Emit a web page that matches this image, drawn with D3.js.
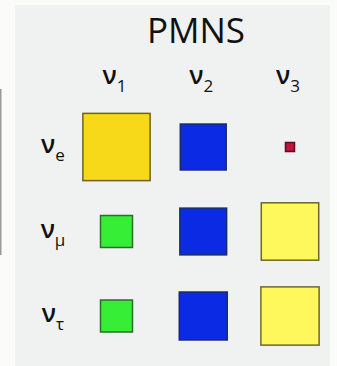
<!DOCTYPE html>
<meta charset="utf-8">
<script src="https://d3js.org/d3.v7.min.js"></script>
<style>
  body { margin: 0; background: #fbfcfa; }
  text { font-family: "Open Sans", "Noto Sans", sans-serif; fill: #111; }
</style>
<svg id="my_dataviz" width="337" height="366"></svg>
<script>

    // Mass states (columns) and flavour states (rows)
    var massStates = ["1", "2", "3"];
    var flavours = ["e", "μ", "τ"];

    var rowE = [0.82, 0.56, 0.11];
    var rowMu = [0.39, 0.57, 0.70];
    var rowTau = [0.39, 0.585, 0.71];

    var values = [rowE, rowMu, rowTau];

    // fill / stroke for each cell
    var fills = [
        ["#f8d91a", "#0a2ae4", "#c8123e"],
        ["#36ee36", "#0a2ae4", "#fff85c"],
        ["#36ee36", "#0a2ae4", "#fff85c"]
    ];
    var strokes = [
        ["#6e6222", "#1d2a6a", "#5a1020"],
        ["#2f6a2f", "#1d2a6a", "#6c6632"],
        ["#2f6a2f", "#1d2a6a", "#6c6632"]
    ];

    var svg = d3.select("svg");

    // panel
    svg.append("rect")
        .attr("x", 15).attr("y", 5)
        .attr("width", 315).attr("height", 366)
        .attr("fill", "#eff2f0");

    // left edge line of the slide behind
    svg.append("line")
        .attr("x1", 0.5).attr("x2", 0.5)
        .attr("y1", 89).attr("y2", 255)
        .attr("stroke", "#9a9a9a").attr("stroke-width", 2);

    svg.append("text")
        .attr("x", 196).attr("y", 43)
        .attr("text-anchor", "middle")
        .style("font-size", "35px")
        .text("PMNS");

    var x = d3.scalePoint().domain(massStates).range([116.5, 290]);
    var y = d3.scalePoint().domain(flavours).range([147, 316]);
    var side = d3.scaleLinear().domain([0, 1]).range([0, 82]);

    // column headers
    var col = svg.append("g").selectAll("text")
        .data(massStates)
        .enter()
        .append("text")
        .attr("x", function (d) { return x(d) - 2; })
        .attr("y", 84)
        .attr("text-anchor", "middle");
    col.append("tspan").style("font-size", "25px").style("font-weight", 600).text("ν");
    col.append("tspan").attr("dy", 8).style("font-size", "17px").text(function (d) { return d; });

    // row headers
    var row = svg.append("g").selectAll("text")
        .data(flavours)
        .enter()
        .append("text")
        .attr("x", 53)
        .attr("y", function (d) { return y(d) + 6; })
        .attr("text-anchor", "middle");
    row.append("tspan").style("font-size", "25px").style("font-weight", 600).text("ν");
    row.append("tspan").attr("dy", 8).style("font-size", "17px").text(function (d) { return d; });

    // cells
    var cells = [];
    values.forEach(function (r, i) {
        r.forEach(function (v, j) {
            cells.push({ row: flavours[i], col: massStates[j], v: v, i: i, j: j });
        });
    });

    svg.append("g")
        .selectAll("rect")
        .data(cells)
        .enter()
        .append("rect")
        .attr("x", function (d) { return x(d.col) - side(d.v) / 2; })
        .attr("y", function (d) { return y(d.row) - side(d.v) / 2; })
        .attr("width", function (d) { return side(d.v); })
        .attr("height", function (d) { return side(d.v); })
        .attr("fill", function (d) { return fills[d.i][d.j]; })
        .attr("stroke", function (d) { return strokes[d.i][d.j]; })
        .attr("stroke-width", 1.5);

</script>
